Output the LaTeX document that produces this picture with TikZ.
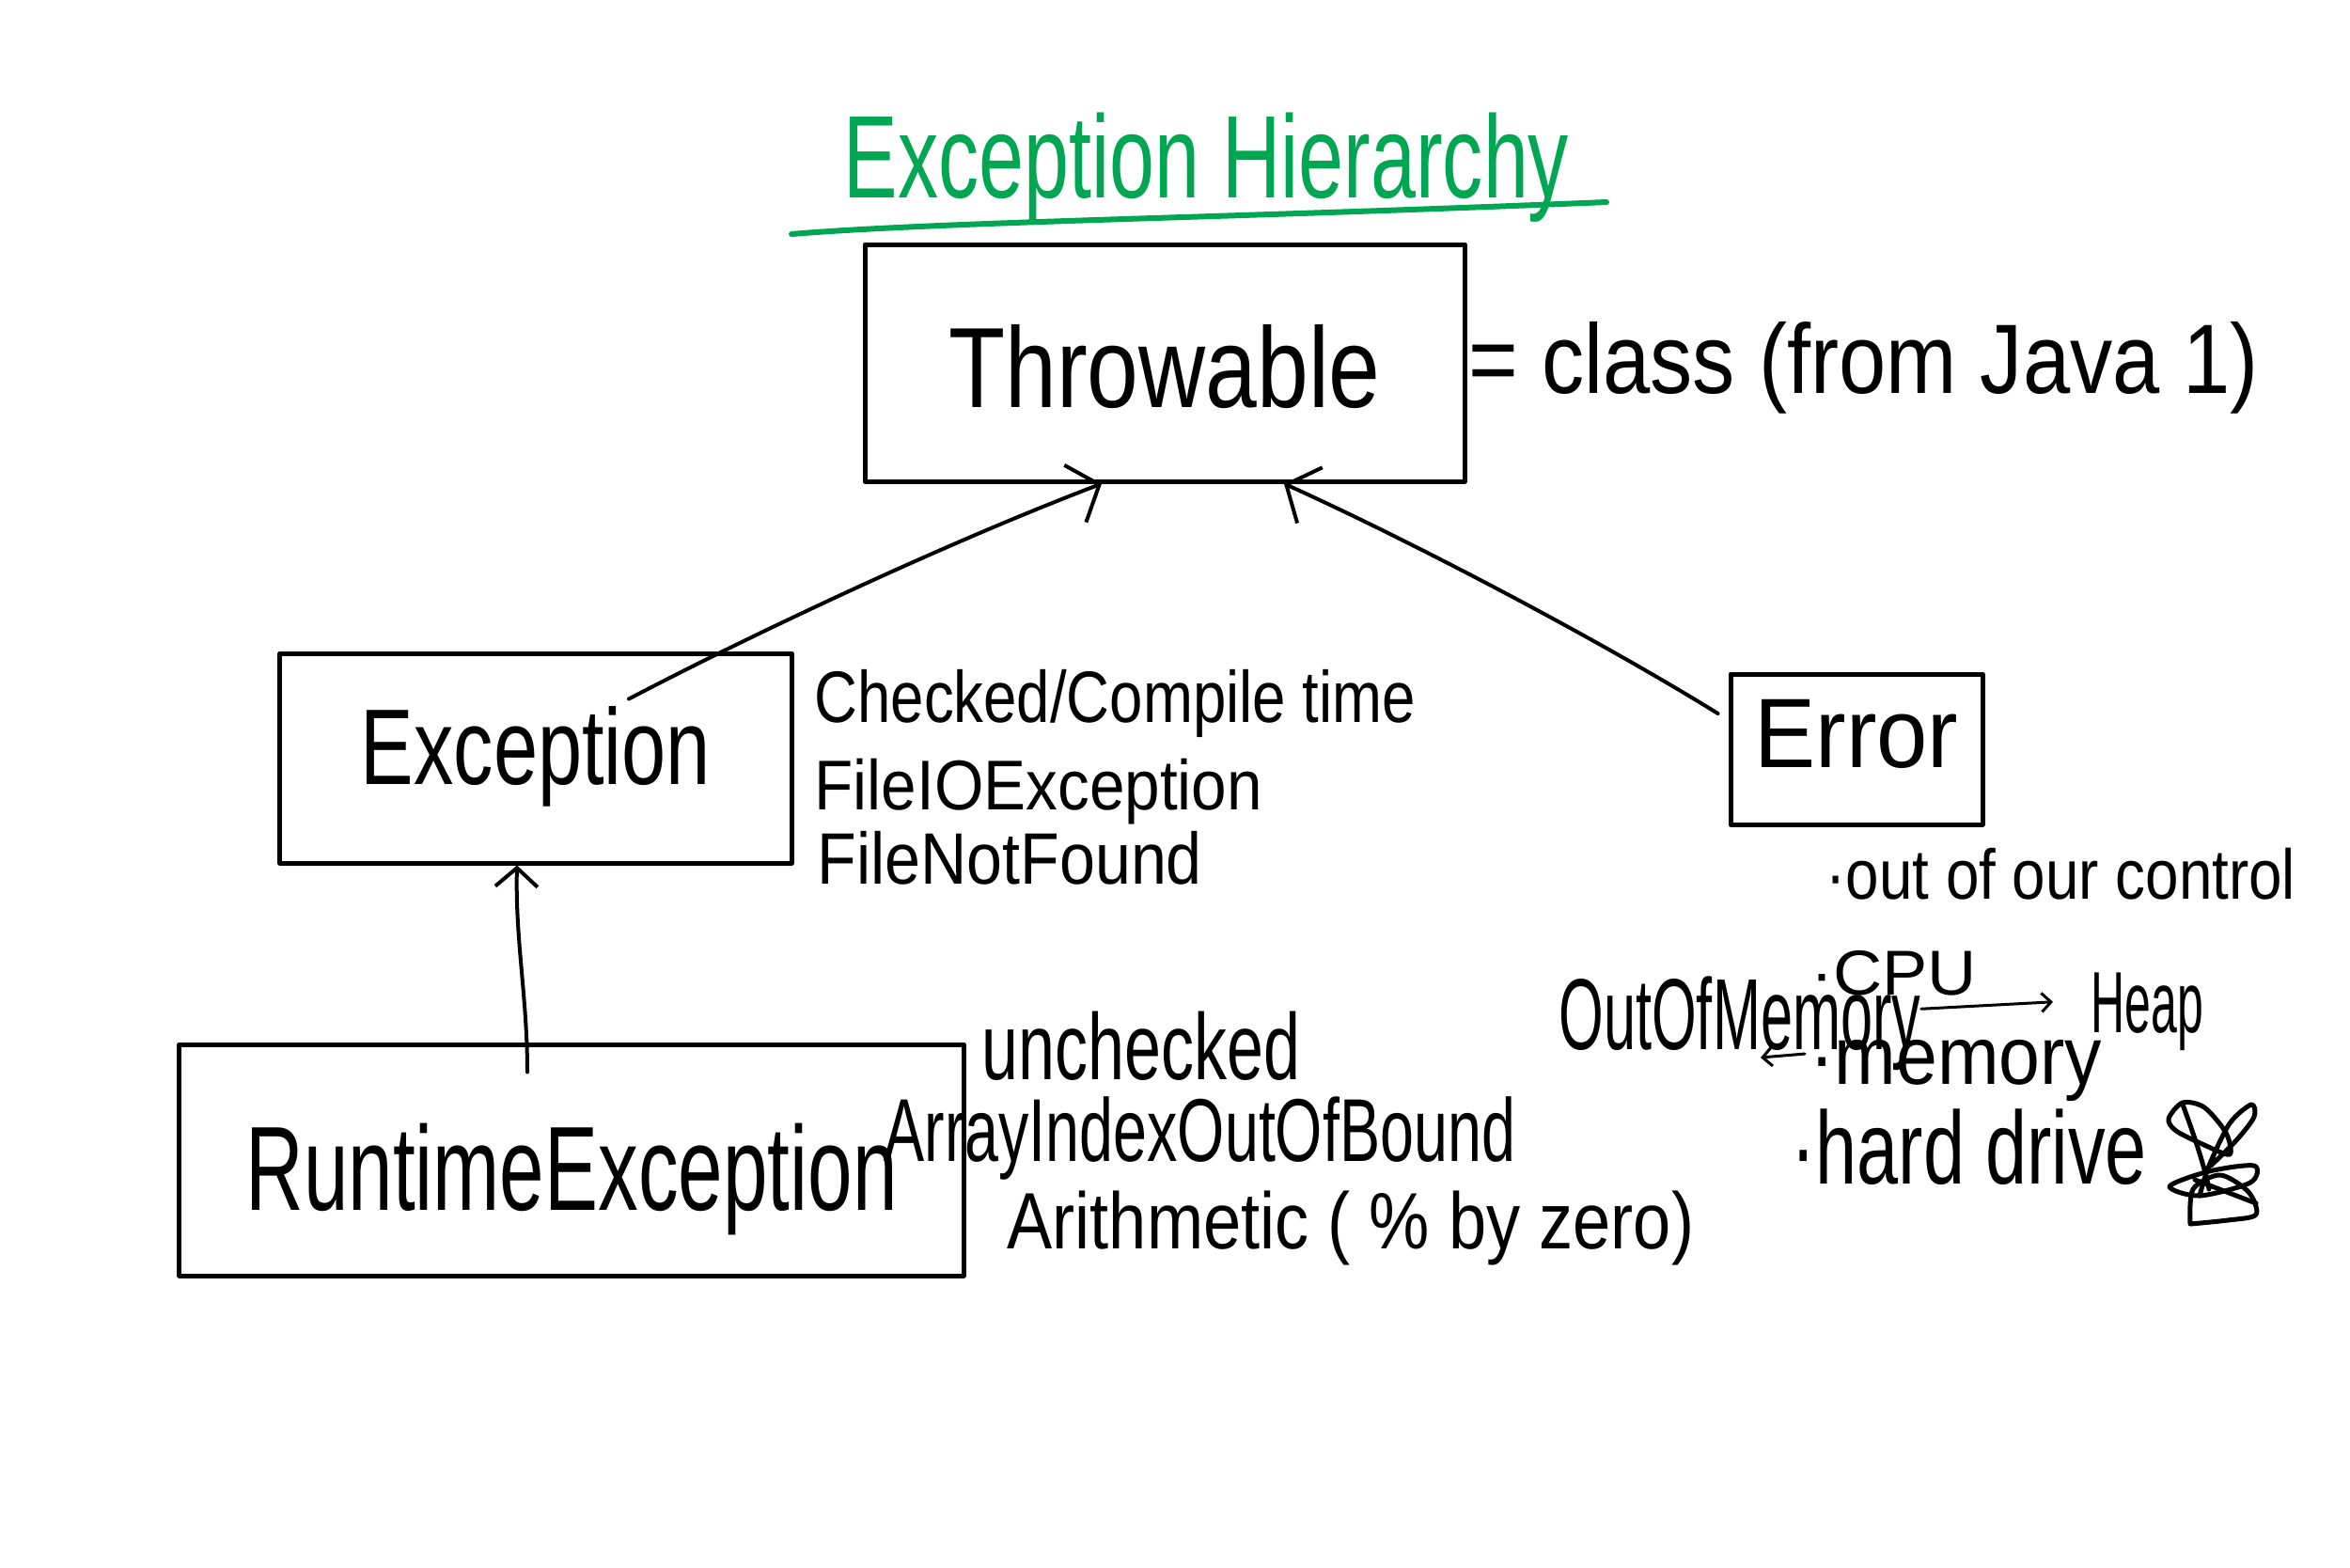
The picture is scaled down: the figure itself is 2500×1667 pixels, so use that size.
\documentclass[tikz,border=0pt]{standalone}
\usepackage{fontspec}
\setmainfont{Liberation Sans}
\usepackage{graphicx}
\usetikzlibrary{arrows.meta,calc}
\definecolor{tgreen}{HTML}{00A651}
\newcommand{\hwtxt}[3]{\fontsize{#1}{#1}\selectfont\scalebox{#2}[1]{#3}}
\begin{document}
\begin{tikzpicture}[x=0.4pt,y=-0.4pt,
  ink/.style={line width=2pt, line cap=round, line join=round},
  box/.style={draw, ink, inner sep=0pt, text depth=0pt},
  lbl/.style={inner sep=0pt, anchor=base west},
  conn/.style={line width=1.6pt, line cap=round, -{Straight Barb[length=11pt,width=26pt,line width=1.6pt]}},
  connb/.style={line width=1.6pt, line cap=round, -{Straight Barb[length=8pt,width=18pt,line width=1.6pt]}},
  small/.style={line width=1.2pt, line cap=round, -{Straight Barb[length=4pt,width=8pt,line width=1.2pt]}},
  scrib/.style={line width=2pt, line cap=round, line join=round},
]
\useasboundingbox[fill=white] (0,0) rectangle (2500,1667);

% title
\node[lbl, text=tgreen] (title) at (897,210) {\hwtxt{50}{0.69}{Exception Hierarchy}};
\draw[tgreen, line width=2.4pt, line cap=round] (842,249) .. controls (1000,236) and (1300,232) .. (1709,215);

% boxes
\node[box, minimum width=255.2pt, minimum height=100.8pt, text height=38pt] (thr) at (1239,386) {\hwtxt{48.6}{0.81}{Throwable}};
\node[box, minimum width=217.6pt, minimum height=89.2pt, text height=32.7pt, text depth=10.4pt] (exc) at (570,806.5) {\hwtxt{45.8}{0.74}{Exception}};
\node[box, minimum width=107.2pt, minimum height=64pt, text height=30.1pt, text depth=14.8pt] (err) at (1975,797) {\hwtxt{42}{0.93}{Error}};
\node[box, minimum width=333.6pt, minimum height=98.4pt, text height=42.9pt] (rt) at (608,1234) {\hwtxt{51}{0.67}{RuntimeException}};

% labels
\node[lbl] (cls) at (1562,418) {\hwtxt{42}{0.86}{= class (from Java 1)}};
\node[lbl] (chk) at (866,768) {\hwtxt{31}{0.82}{Checked/Compile time}};
\node[lbl] (fio) at (866,861) {\hwtxt{30}{0.90}{FileIOException}};
\node[lbl] (fnf) at (869,940) {\hwtxt{31}{0.88}{FileNotFound}};
\node[lbl] (unc) at (1044,1148) {\hwtxt{40}{0.70}{unchecked}};
\node[lbl] (aio) at (940,1235) {\hwtxt{38}{0.68}{ArrayIndexOutOfBound}};
\node[lbl] (ari) at (1071,1328) {\hwtxt{34}{0.85}{Arithmetic ( \% by zero)}};
\node[lbl] (ooc) at (1942,956) {\hwtxt{30}{0.85}{·out of our control}};
\node[lbl] (cpu) at (1926,1058) {\hwtxt{27}{1.07}{·CPU}};
\node[lbl] (oom) at (1658,1116) {\hwtxt{43}{0.57}{OutOfMemory}};
\node[lbl] (heap) at (2224,1098) {\hwtxt{37}{0.54}{Heap}};
\node[lbl] (mem) at (1925,1153) {\hwtxt{35}{0.9}{·memory}};
\node[lbl] (hdd) at (1905,1259) {\hwtxt{44}{0.72}{·hard drive}};
\coordinate (memarr) at (1873,1125);

% connectors
\draw[conn] ([xshift=39.6pt,yshift=-20.4pt]exc.north) .. controls (790,680) and (1000,580) .. ([xshift=-26.8pt]thr.south);
\draw[conn] ([xshift=-4.4pt,yshift=15.2pt]err.west) .. controls (1700,680) and (1500,575) .. ([xshift=50.8pt]thr.south);
\draw[connb] ([xshift=-18.8pt,yshift=-12.8pt]rt.north) .. controls (561,1060) and (548,1000) .. ([xshift=-8pt]exc.south);
\draw[small] ([yshift=6pt]oom.east) -- ([xshift=-16pt,yshift=4pt]heap.west);
\draw[small] ([xshift=-2pt,yshift=7pt]mem.west) -- (memarr);

% scribble
\draw[scrib] plot[smooth cycle] coordinates {(2307,1190) (2322,1173) (2345,1178) (2368,1205) (2372,1228) (2345,1218) (2315,1203)};
\draw[scrib] plot[smooth] coordinates {(2340,1272) (2350,1240) (2372,1195) (2395,1175) (2398,1188) (2380,1212) (2352,1240)};
\draw[scrib] plot[smooth cycle] coordinates {(2308,1262) (2350,1246) (2398,1240) (2394,1258) (2340,1272)};
\draw[scrib] plot[smooth] coordinates {(2330,1302) (2333,1265) (2362,1250) (2392,1268) (2400,1292) (2370,1298) (2330,1302)};
\draw[scrib] (2335,1255) -- (2400,1280);
\draw[scrib] (2322,1175) .. controls (2335,1210) and (2345,1240) .. (2350,1265);
\end{tikzpicture}
\end{document}
